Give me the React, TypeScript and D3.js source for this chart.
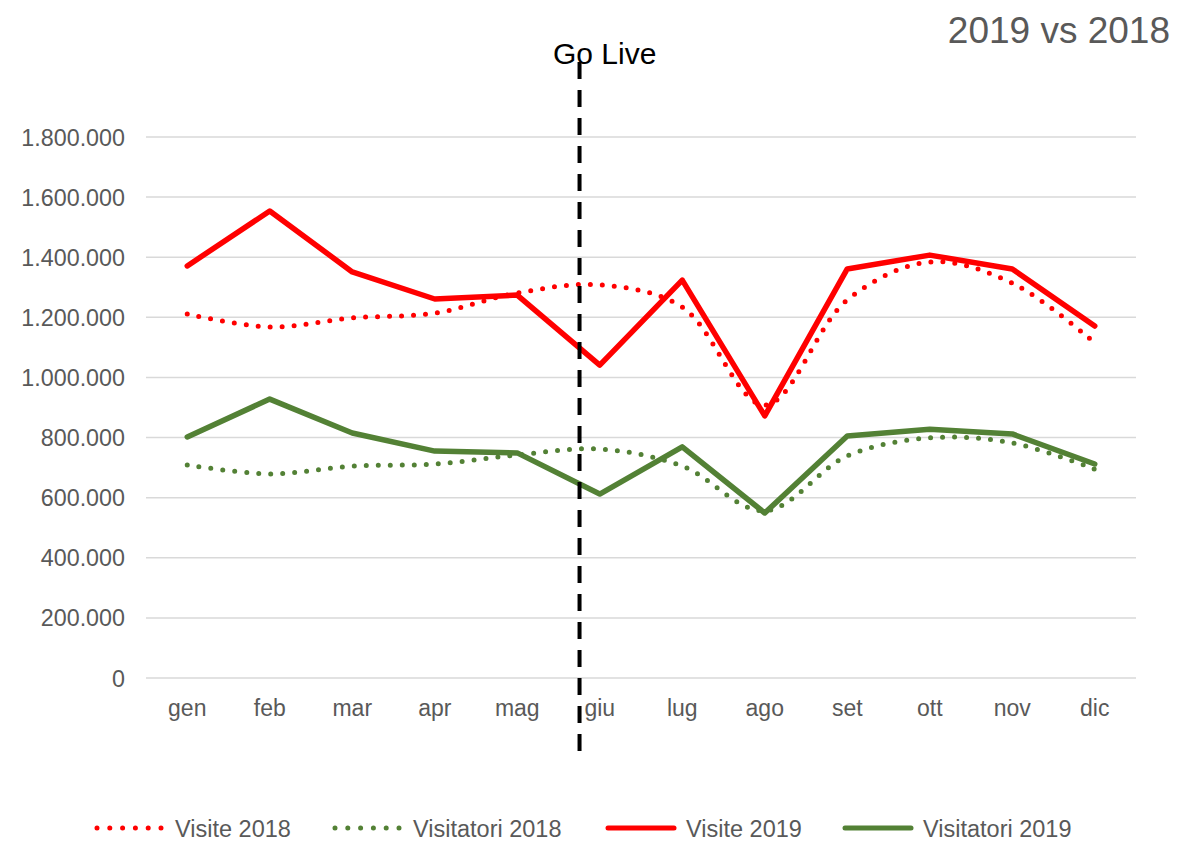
import React from "react";
import * as d3 from "d3";

const months = ["gen", "feb", "mar", "apr", "mag", "giu", "lug", "ago", "set", "ott", "nov", "dic"];
const visite2018 = [1211000, 1168000, 1198000, 1214000, 1281000, 1308000, 1234000, 908000, 1258000, 1384000, 1314000, 1115000];
const visitatori2018 = [709000, 679000, 705000, 712000, 742000, 762000, 705000, 556000, 739000, 799000, 782000, 695000];
const visite2019 = [1371000, 1554000, 1351000, 1261000, 1274000, 1041000, 1324000, 872000, 1361000, 1407000, 1361000, 1171000];
const visitatori2019 = [802000, 928000, 815000, 755000, 749000, 612000, 769000, 549000, 805000, 828000, 812000, 712000];
const yTicks = [0, 200000, 400000, 600000, 800000, 1000000, 1200000, 1400000, 1600000, 1800000];
const goLiveMonth = "giu";

const RED = "#ff0000";
const GREEN = "#538135";
const FONT = "'Liberation Sans', Arial, sans-serif";

const fmt = (v: number) => d3.format(",")(v).replace(/,/g, ".");

export default function App() {
  const W = 1178, H = 842;
  const x = d3.scalePoint<string>().domain(months).range([146, 1136]).padding(0.5);
  const y = d3.scaleLinear().domain([0, 1800000]).range([678, 137]);
  const step = x.step();

  const straight = d3.line<number>().x((_, i) => x(months[i])!).y((d) => y(d));
  const smooth = d3.line<number>().x((_, i) => x(months[i])!).y((d) => y(d)).curve(d3.curveCatmullRom.alpha(0.5));

  const series = [
    { name: "Visite 2018", data: visite2018, color: RED, dotted: true },
    { name: "Visitatori 2018", data: visitatori2018, color: GREEN, dotted: true },
    { name: "Visite 2019", data: visite2019, color: RED, dotted: false },
    { name: "Visitatori 2019", data: visitatori2019, color: GREEN, dotted: false },
  ];
  const legendX = [97, 335, 608, 845];
  const goX = x(goLiveMonth)! - step * 0.245;

  return (
    <svg width={W} height={H} style={{ position: "absolute", left: 0, top: 0 }} fontFamily={FONT}>
      <rect width={W} height={H} fill="#fff" />
      {yTicks.map((t) => (
        <g key={t}>
          <line x1={146} x2={1136} y1={y(t)} y2={y(t)} stroke="#d9d9d9" strokeWidth={1.5} />
          <text x={125} y={y(t) + 8.5} textAnchor="end" fontSize={23.3} fill="#595959">{fmt(t)}</text>
        </g>
      ))}
      {months.map((m) => (
        <text key={m} x={x(m)!} y={716} textAnchor="middle" fontSize={23} fill="#595959">{m}</text>
      ))}
      {series.map((s) => (
        <path
          key={s.name}
          d={(s.dotted ? smooth : straight)(s.data) || ""}
          fill="none"
          stroke={s.color}
          strokeWidth={s.dotted ? 5 : 5.5}
          strokeLinecap="round"
          strokeLinejoin="round"
          strokeDasharray={s.dotted ? "0 12" : undefined}
        />
      ))}
      <line x1={goX} x2={goX} y1={62} y2={752} stroke="#000" strokeWidth={4} strokeDasharray="17 11" />
      <text x={553} y={64} fontSize={30} fill="#000">Go Live</text>
      <text x={1170} y={43} textAnchor="end" fontSize={37} fill="#595959">2019 vs 2018</text>
      {series.map((s, i) => (
        <g key={s.name}>
          <line
            x1={legendX[i]}
            x2={legendX[i] + 66}
            y1={828}
            y2={828}
            stroke={s.color}
            strokeWidth={5}
            strokeLinecap="round"
            strokeDasharray={s.dotted ? "0 12.8" : undefined}
          />
          <text x={legendX[i] + 78} y={837} fontSize={23.5} fill="#595959">{s.name}</text>
        </g>
      ))}
    </svg>
  );
}
